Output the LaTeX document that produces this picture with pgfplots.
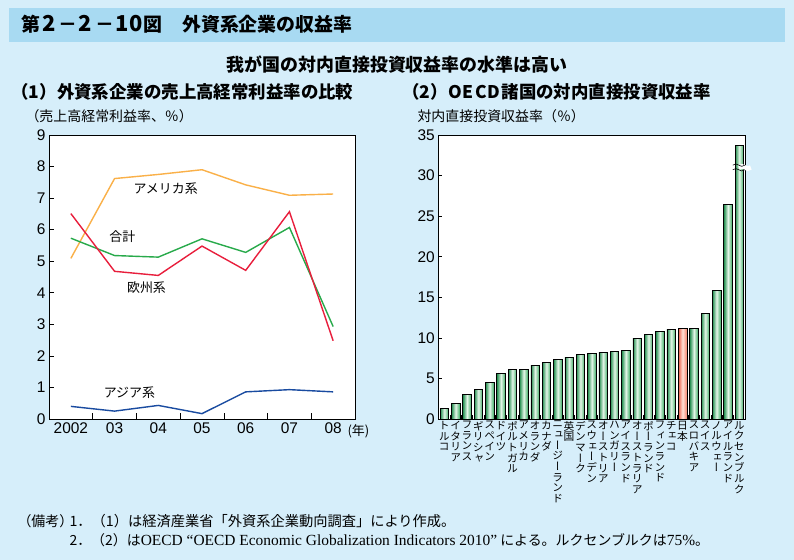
\documentclass[border=0pt]{standalone}
\usepackage{pgfplots}
\pgfplotsset{compat=1.18}
\usepackage{fontspec}
\setmainfont{Liberation Sans}
\newfontfamily\jp{Noto Sans CJK JP}
\newfontfamily\jpv[RawFeature=+vert]{Noto Sans CJK JP}
\newfontfamily\serifl{Liberation Serif}
\definecolor{bgc}{RGB}{214,238,250}
\definecolor{bandc}{RGB}{168,218,242}
\definecolor{cOr}{RGB}{250,176,72}
\definecolor{cGr}{RGB}{40,170,75}
\definecolor{cRd}{RGB}{232,30,60}
\definecolor{cBl}{RGB}{25,75,160}
\definecolor{gD}{RGB}{30,140,75}
\definecolor{gM}{RGB}{60,172,100}
\definecolor{gL}{RGB}{228,246,232}
\definecolor{rD}{RGB}{235,95,75}
\definecolor{rM}{RGB}{245,130,110}
\definecolor{rL}{RGB}{254,225,215}
\pgfplotsset{
  gbar/.style={ybar, bar width=8.5bp, bar shift=0pt, draw=black, line width=0.6bp, left color=gD, right color=gM, middle color=gL},
  rbar/.style={ybar, bar width=8.5bp, bar shift=0pt, draw=black, line width=0.6bp, left color=rD, right color=rM, middle color=rL},
}
\begin{document}
\begin{tikzpicture}
\fill[bgc] (0bp,0bp) rectangle (794bp,560bp);
\fill[bandc] (9bp,518bp) rectangle (785bp,552bp);
\begin{scope}[every node/.style={font=\jp\bfseries\fontsize{19}{20}\selectfont, inner sep=0pt, anchor=base}]
\node at (30.5bp,528bp) {第};
\node[font=\jp\bfseries\fontsize{22}{22}\selectfont] at (49bp,528bp) {2};
\node at (67.5bp,528bp) {－};
\node[font=\jp\bfseries\fontsize{22}{22}\selectfont] at (85.5bp,528bp) {2};
\node at (104.5bp,528bp) {－};
\node[font=\jp\bfseries\fontsize{22}{22}\selectfont] at (129bp,528bp) {10};
\node at (153bp,528bp) {図};
\node[anchor=base west] at (182bp,528bp) {外資系企業の収益率};
\end{scope}
\node[font=\jp\bfseries\fontsize{18}{20}\selectfont] at (397bp,495bp) {我が国の対内直接投資収益率の水準は高い};
\node[anchor=west, font=\jp\bfseries\fontsize{17.5}{19}\selectfont] at (8bp,468bp) {（1）外資系企業の売上高経常利益率の比較};
\node[anchor=west, font=\jp\bfseries\fontsize{17.5}{19}\selectfont] at (399bp,468bp) {（2）O\kern1.2bp E\kern1.2bp C\kern1.2bp D\kern1bp 諸国の対内直接投資収益率};
\node[anchor=west, font=\jp\fontsize{14}{15}\selectfont] at (22bp,444bp) {（売上高経常利益率、％）};
\node[anchor=west, font=\jp\fontsize{14}{15}\selectfont] at (414bp,444bp) {対内直接投資収益率（％）};
\node[anchor=west, font=\jp\fontsize{14}{15}\selectfont] at (14bp,39bp) {（備考）};
\node[anchor=west, font=\jp\fontsize{14.3}{15}\selectfont] at (66bp,39bp) {1．（1）は経済産業省「外資系企業動向調査」により作成。};
\node[anchor=west, font=\jp\fontsize{14}{15}\selectfont] at (66bp,20bp) {2．（2）は{\serifl\fontsize{15.5}{16}\selectfont OECD “OECD Economic Globalization Indicators 2010”} による。ルクセンブルクは{\serifl\fontsize{15.5}{16}\selectfont 75\%}。};

\begin{axis}[
  at={(49bp,141bp)}, anchor=south west,
  width=306bp, height=284bp, scale only axis,
  xmin=-0.5, xmax=6.5, ymin=0, ymax=9,
  axis background/.style={fill=white},
  axis line style={line width=0.8bp},
  xtick={0,...,6}, xticklabels={2002,03,04,05,06,07,08},
  minor xtick={0.5,1.5,2.5,3.5,4.5,5.5},
  ytick={0,...,9},
  xtick pos=bottom, ytick pos=left,
  tick align=inside,
  major x tick style={draw=none},
  major tick length=5bp, minor tick length=6bp,
  tick style={black, line width=0.6bp},
  xticklabel style={font=\fontsize{15.5}{16}\selectfont},
  yticklabel style={font=\fontsize{15.5}{16}\selectfont},
  /pgf/number format/assume math mode=true,
  clip=false,
]
\addplot[cOr, line width=1.4bp] coordinates {(0,5.09)(1,7.62)(2,7.75)(3,7.90)(4,7.42)(5,7.09)(6,7.13)};
\addplot[cGr, line width=1.4bp] coordinates {(0,5.73)(1,5.18)(2,5.13)(3,5.71)(4,5.28)(5,6.07)(6,2.93)};
\addplot[cRd, line width=1.4bp] coordinates {(0,6.51)(1,4.68)(2,4.55)(3,5.48)(4,4.71)(5,6.57)(6,2.48)};
\addplot[cBl, line width=1.4bp] coordinates {(0,0.40)(1,0.25)(2,0.43)(3,0.17)(4,0.86)(5,0.93)(6,0.86)};
\node[font=\jp\fontsize{13}{14}\selectfont] at (axis cs:2.17,7.29) {アメリカ系};
\node[font=\jp\fontsize{13}{14}\selectfont] at (axis cs:1.18,5.77) {合計};
\node[font=\jp\fontsize{13}{14}\selectfont] at (axis cs:1.73,4.18) {欧州系};
\node[font=\jp\fontsize{13}{14}\selectfont] at (axis cs:1.34,0.82) {アジア系};
\node[anchor=west, font=\jp\fontsize{13}{14}\selectfont] at (axis cs:6.25,-0.4) {(年)};
\end{axis}

\begin{axis}[
  at={(438.3bp,141bp)}, anchor=south west,
  width=307bp, height=284bp, scale only axis,
  xmin=-0.53, xmax=26.53, ymin=0, ymax=35,
  axis background/.style={fill=white},
  axis line style={line width=0.8bp},
  xtick={0,...,26},
  xticklabels={{ト\\ル\\コ},{イ\\タ\\リ\\ア},{フ\\ラ\\ン\\ス},{ギ\\リ\\シ\\ャ},{ス\\ペ\\イ\\ン},{ド\\イ\\ツ},{ポ\\ル\\ト\\ガ\\ル},{ア\\メ\\リ\\カ},{オ\\ラ\\ン\\ダ},{カ\\ナ\\ダ},{ニ\\ュ\\ー\\ジ\\ー\\ラ\\ン\\ド},{英\\国},{デ\\ン\\マ\\ー\\ク},{ス\\ウ\\ェ\\ー\\デ\\ン},{オ\\ー\\ス\\ト\\リ\\ア},{ハ\\ン\\ガ\\リ\\ー},{ア\\イ\\ス\\ラ\\ン\\ド},{オ\\ー\\ス\\ト\\ラ\\リ\\ア},{ポ\\ー\\ラ\\ン\\ド},{フ\\ィ\\ン\\ラ\\ン\\ド},{チ\\ェ\\コ},{日\\本},{ス\\ロ\\バ\\キ\\ア},{ス\\イ\\ス},{ノ\\ル\\ウ\\ェ\\ー},{ア\\イ\\ル\\ラ\\ン\\ド},{ル\\ク\\セ\\ン\\ブ\\ル\\ク}},
  minor xtick={0.5,1.5,...,25.5},
  ytick={0,5,...,35},
  major x tick style={draw=none},
  xtick pos=bottom, ytick pos=left, tick align=inside,
  major tick length=4bp, minor tick length=4bp,
  tick style={black, line width=0.6bp},
  xticklabel style={font=\jpv\fontsize{10.8}{10.7}\selectfont, align=center, inner sep=0pt, anchor=north, yshift=-2bp},
  yticklabel style={font=\fontsize{15.5}{16}\selectfont},
  /pgf/number format/assume math mode=true,
  clip=false,
]
\addplot[gbar] coordinates {(0,1.31)};
\addplot[gbar] coordinates {(1,1.93)};
\addplot[gbar] coordinates {(2,3.04)};
\addplot[gbar] coordinates {(3,3.66)};
\addplot[gbar] coordinates {(4,4.52)};
\addplot[gbar] coordinates {(5,5.63)};
\addplot[gbar] coordinates {(6,6.12)};
\addplot[gbar] coordinates {(7,6.12)};
\addplot[gbar] coordinates {(8,6.61)};
\addplot[gbar] coordinates {(9,6.98)};
\addplot[gbar] coordinates {(10,7.35)};
\addplot[gbar] coordinates {(11,7.60)};
\addplot[gbar] coordinates {(12,7.97)};
\addplot[gbar] coordinates {(13,8.09)};
\addplot[gbar] coordinates {(14,8.22)};
\addplot[gbar] coordinates {(15,8.34)};
\addplot[gbar] coordinates {(16,8.46)};
\addplot[gbar] coordinates {(17,9.94)};
\addplot[gbar] coordinates {(18,10.44)};
\addplot[gbar] coordinates {(19,10.81)};
\addplot[gbar] coordinates {(20,11.05)};
\addplot[rbar] coordinates {(21,11.17)};
\addplot[gbar] coordinates {(22,11.17)};
\addplot[gbar] coordinates {(23,13.02)};
\addplot[gbar] coordinates {(24,15.86)};
\addplot[gbar] coordinates {(25,26.46)};
\addplot[gbar] coordinates {(26,33.7)};
\draw[white, line width=4.5bp] (axis cs:26,31.0) ++(-6.5bp,0) sin ++(3bp,1.2bp) cos ++(3bp,-1.2bp) sin ++(3bp,-1.2bp) cos ++(3bp,1.2bp);
\draw[black, line width=0.6bp] (axis cs:26,31.0) ++(-6.5bp,2.3bp) sin ++(3bp,1.2bp) cos ++(3bp,-1.2bp) sin ++(3bp,-1.2bp) cos ++(3bp,1.2bp);
\draw[black, line width=0.6bp] (axis cs:26,31.0) ++(-6.5bp,-2.3bp) sin ++(3bp,1.2bp) cos ++(3bp,-1.2bp) sin ++(3bp,-1.2bp) cos ++(3bp,1.2bp);
\end{axis}
\end{tikzpicture}
\end{document}
